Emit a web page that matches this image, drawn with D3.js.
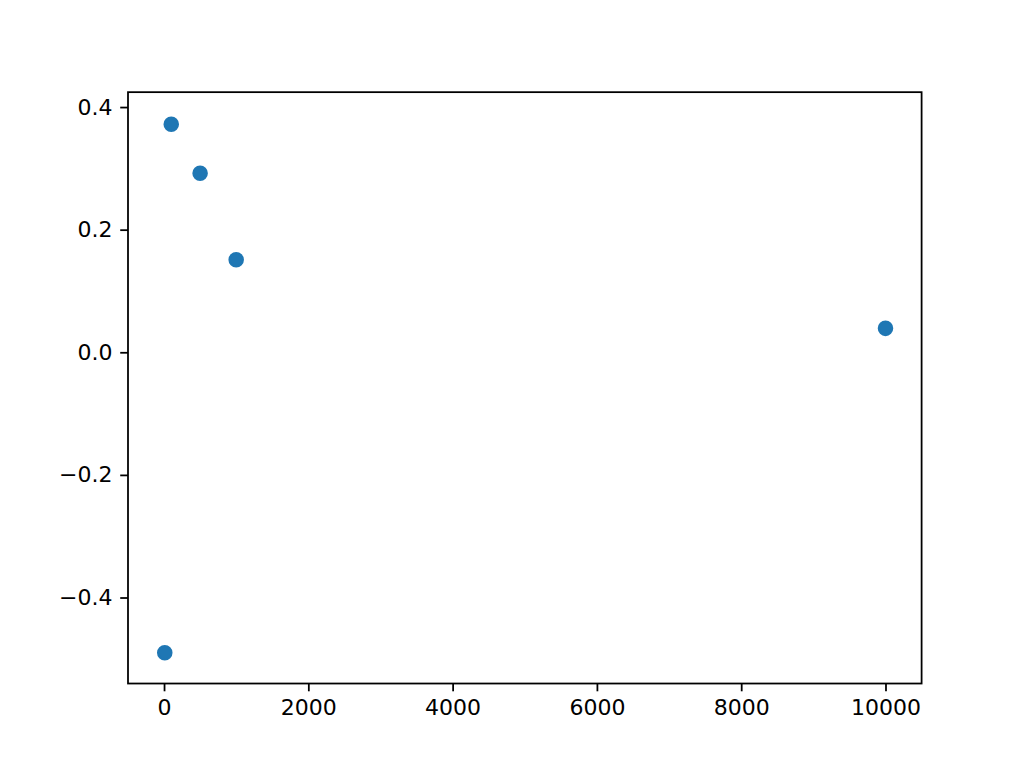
<!DOCTYPE html>
<html>
<head>
<meta charset="utf-8">
<script src="https://cdn.jsdelivr.net/npm/d3@7"></script>
<style>
  body { margin: 0; background: #fff; }
  .axis text { font-family: "DejaVu Sans", sans-serif; font-size: 22px; fill: #000; }
  .axis path, .axis line { stroke: #000; }
</style>
</head>
<body>
<main></main>
<script>
const WIDTH = 1024;
const HEIGHT = 768;

// data
const xValues = [10, 100, 500, 1000, 10000];
const yValues = [-0.490, 0.372, 0.292, 0.151, 0.039];
const xTicks = [0, 2000, 4000, 6000, 8000, 10000];
const yTicks = [-0.4, -0.2, 0.0, 0.2, 0.4];

const PT = 160 / 72;   // matplotlib point in px at dpi 160
const margin = { left: 128, right: 1024 - 921.6, top: 92.16, bottom: 768 - 683.52 };

function drawChart () {
    var svg = d3.select("main").append("svg")
                .attr("width", WIDTH)
                .attr("height", HEIGHT);

    var x = d3.scaleLinear()
              .domain([-499.5, 10500.5])
              .range([margin.left, WIDTH - margin.right]);

    var y = d3.scaleLinear()
              .domain([-0.5403, 0.4243])
              .range([HEIGHT - margin.bottom, margin.top]);

    var fmtY = function (d) { return d3.format(".1f")(d).replace("-", "\u2212"); };

    // points
    svg.append("g")
       .selectAll("circle")
       .data(xValues.map(function (d, i) { return [d, yValues[i]]; }))
       .join("circle")
       .attr("cx", function (d) { return x(d[0]); })
       .attr("cy", function (d) { return y(d[1]); })
       .attr("r", 3 * PT)
       .style("fill", "#1f77b4")
       .style("stroke", "#1f77b4")
       .style("stroke-width", PT);

    // axes
    var xAxis = svg.append("g")
       .attr("class", "axis")
       .attr("transform", "translate(0," + (HEIGHT - margin.bottom) + ")")
       .call(d3.axisBottom(x).tickValues(xTicks).tickFormat(d3.format("d"))
               .tickSize(3.5 * PT).tickPadding(3.5 * PT).tickSizeOuter(0));

    var yAxis = svg.append("g")
       .attr("class", "axis")
       .attr("transform", "translate(" + margin.left + ",0)")
       .call(d3.axisLeft(y).tickValues(yTicks).tickFormat(fmtY)
               .tickSize(3.5 * PT).tickPadding(3.5 * PT).tickSizeOuter(0));

    svg.selectAll(".axis line").style("stroke-width", 0.8 * PT);
    svg.selectAll(".axis path").remove();

    // frame
    svg.append("rect")
       .attr("x", margin.left)
       .attr("y", margin.top)
       .attr("width", WIDTH - margin.left - margin.right)
       .attr("height", HEIGHT - margin.top - margin.bottom)
       .style("fill", "none")
       .style("stroke", "#000")
       .style("stroke-width", 0.8 * PT);
}

drawChart();
</script>
</body>
</html>
